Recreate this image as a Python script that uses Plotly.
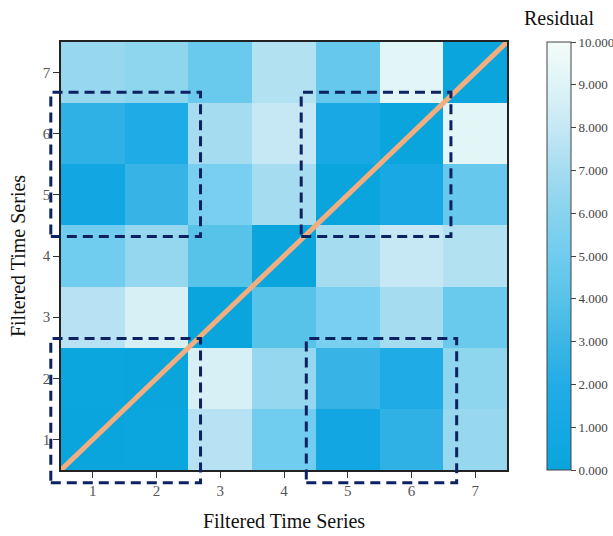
import plotly.graph_objects as go

series = [1, 2, 3, 4, 5, 6, 7]
tick_labels = ["1", "2", "3", "4", "5", "6", "7"]

# residual matrix, rows = y (1..7 bottom->top), cols = x (1..7)
residual = [
    [0.0, 0.2, 7.5, 5.1, 0.8, 2.5, 6.5],
    [0.2, 0.0, 8.7, 6.4, 2.8, 1.8, 6.2],
    [7.5, 8.7, 0.0, 4.0, 5.4, 7.0, 4.8],
    [5.1, 6.4, 4.0, 0.0, 7.0, 8.0, 7.4],
    [0.8, 2.8, 5.4, 7.0, 0.0, 1.3, 4.6],
    [2.5, 1.8, 7.0, 8.0, 1.3, 0.0, 9.2],
    [6.5, 6.2, 4.8, 7.4, 4.6, 9.2, 0.0],
]

# highlighted groups (data coordinates: x0, x1, y0, y1)
groups = [
    (0.34, 2.69, 0.29, 2.65),
    (0.34, 2.69, 4.32, 6.68),
    (4.27, 6.62, 4.32, 6.68),
    (4.35, 6.71, 0.29, 2.65),
]

colorscale = [
    [0.0, "#0AA5DC"],
    [0.1, "#14A8E5"],
    [0.2, "#22ACE6"],
    [0.3, "#3CB6E5"],
    [0.4, "#58C3E8"],
    [0.5, "#6FCCEF"],
    [0.6, "#88D3EE"],
    [0.7, "#A5DCF0"],
    [0.8, "#C6E8F5"],
    [0.9, "#DEF4F7"],
    [1.0, "#F3FCF8"],
]

serif = "Liberation Serif, Times New Roman, serif"
W, H = 613, 536
L, R, T, B = 61, 106, 42, 66
plot_w = W - L - R
plot_h = H - T - B

fig = go.Figure()
fig.add_trace(go.Heatmap(
    x=series, y=series, z=residual,
    zmin=0, zmax=10, colorscale=colorscale,
    colorbar=dict(
        thickness=24, len=1.0, lenmode="fraction", y=0.5, yanchor="middle",
        x=(547 - L) / plot_w, xanchor="left", xpad=0, ypad=0,
        outlinewidth=1, outlinecolor="#444",
        tickmode="linear", tick0=0, dtick=1, tickformat=".3f",
        ticks="outside", ticklen=5, tickcolor="#444",
        tickfont=dict(family=serif, size=13, color="#444"),
    ),
    hoverinfo="skip",
))

lo, hi = 0.5, 7.5
fig.add_trace(go.Scatter(
    x=[lo, hi], y=[lo, hi], mode="lines",
    line=dict(color="#F2AE7E", width=5), hoverinfo="skip", showlegend=False,
))

def px(v):
    return (v - lo) / (hi - lo)

for x0, x1, y0, y1 in groups:
    fig.add_shape(type="rect", xref="paper", yref="paper",
                  x0=px(x0), x1=px(x1), y0=px(y0), y1=px(y1),
                  line=dict(color="#0D2260", width=3, dash="10px,6px"),
                  fillcolor="rgba(0,0,0,0)", layer="above")

fig.add_annotation(text="Residual", xref="paper", yref="paper",
                   x=(559 - L) / plot_w, y=(H - B - 18) / plot_h,
                   xanchor="center", yanchor="middle", showarrow=False,
                   font=dict(family=serif, size=20, color="#111"))

axis_common = dict(
    range=[lo, hi], tickmode="array", tickvals=series, ticktext=tick_labels,
    ticks="outside", ticklen=6, tickcolor="#333", tickwidth=1.2,
    showline=True, linecolor="#222", linewidth=1.5, mirror=True,
    showgrid=False, zeroline=False,
    tickfont=dict(family=serif, size=15, color="#555"),
    title_font=dict(family=serif, size=20, color="#111"),
)

fig.update_layout(
    width=W, height=H,
    margin=dict(l=L, r=R, t=T, b=B, autoexpand=False),
    paper_bgcolor="white", plot_bgcolor="white",
    xaxis=dict(axis_common, title=dict(text="Filtered Time Series", standoff=16)),
    yaxis=dict(axis_common, title=dict(text="Filtered Time Series", standoff=12)),
    showlegend=False,
)

fig.write_html("out.html")
